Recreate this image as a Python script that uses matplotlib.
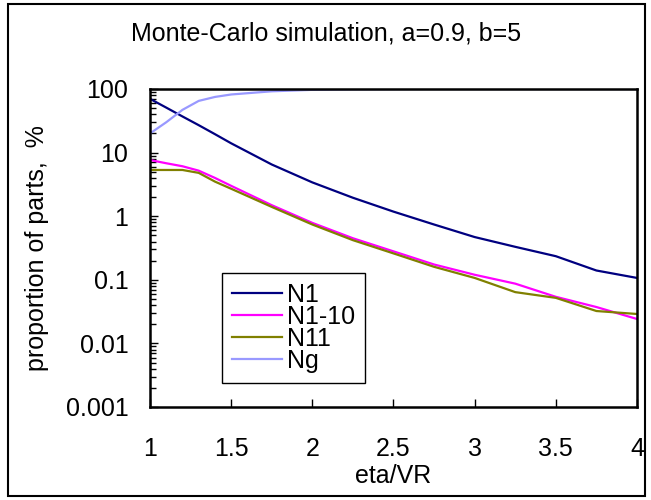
import matplotlib
matplotlib.use("Agg")
import matplotlib.pyplot as plt
from matplotlib.patches import Rectangle
from matplotlib.ticker import LogLocator, NullFormatter

plt.rcParams['font.family'] = ['Liberation Sans', 'DejaVu Sans']

eta = [1.0, 1.1, 1.2, 1.3, 1.4, 1.5, 1.75, 2.0, 2.25, 2.5, 2.75, 3.0, 3.25, 3.5, 3.75, 4.0]
n1 = [70, 51, 37, 27, 19.5, 14, 6.5, 3.4, 1.95, 1.18, 0.74, 0.47, 0.33, 0.235, 0.14, 0.107]
n1_10 = [7.65, 6.8, 6.1, 5.2, 4.0, 3.0, 1.49, 0.785, 0.45, 0.28, 0.174, 0.12, 0.087, 0.054, 0.0373, 0.0242]
n11 = [5.33, 5.33, 5.33, 4.8, 3.5, 2.7, 1.4, 0.74, 0.42, 0.26, 0.16, 0.107, 0.064, 0.052, 0.0323, 0.029]
ng = [20, 30, 47, 65, 75, 82, 92, 97, 99, 99.6, 100, 100, 100, 100, 100, 100]

labels = ["N1", "N1-10", "N11", "Ng"]
colors = ["#000080", "#FF00FF", "#808000", "#9999FF"]
series = [n1, n1_10, n11, ng]

title = "Monte-Carlo simulation, a=0.9, b=5"
xlabel = "eta/VR"
ylabel = "proportion of parts,  %"
xticks = [1, 1.5, 2, 2.5, 3, 3.5, 4]
xticklabels = ["1", "1.5", "2", "2.5", "3", "3.5", "4"]
yticks = [0.001, 0.01, 0.1, 1, 10, 100]
yticklabels = ["0.001", "0.01", "0.1", "1", "10", "100"]

FS = 18

fig = plt.figure(figsize=(6.51, 5.0), dpi=100)
ax = fig.add_axes([150/651, 1-407/500, (637-150)/651, (407-89)/500])

for vals, lab, col in zip(series, labels, colors):
    ax.plot(eta, vals, color=col, lw=1.6, label=lab)

ax.set_yscale('log')
ax.set_xlim(1, 4)
ax.set_ylim(0.001, 100)
ax.set_xticks(xticks)
ax.set_xticklabels(xticklabels)
ax.set_yticks(yticks)
ax.set_yticklabels(yticklabels)
ax.yaxis.set_minor_locator(LogLocator(base=10, subs=range(2, 10), numticks=20))
ax.yaxis.set_minor_formatter(NullFormatter())
ax.tick_params(axis='both', which='major', direction='in', length=6, width=1,
               labelsize=FS, colors='black')
ax.tick_params(axis='y', which='major', pad=15.5)
ax.tick_params(axis='x', which='major', pad=21.5)
ax.tick_params(axis='y', which='minor', direction='in', length=4, width=1)
for s in ax.spines.values():
    s.set_linewidth(1.8)
    s.set_color('black')

ax.set_xlabel(xlabel, fontsize=FS, va='center')
ax.xaxis.set_label_coords(0.5, (407-476)/318)
ax.set_ylabel(ylabel, fontsize=FS, va='center')
ax.yaxis.set_label_coords((37-150)/487, 0.5)

fig.text(326/651, 1 - 33/500, title, ha='center', va='center', fontsize=FS)

leg = ax.legend(loc='lower left', bbox_to_anchor=((222-150)/487, (407-383)/318),
                fontsize=FS, frameon=True, fancybox=False, framealpha=1,
                edgecolor='black', handlelength=2.0, labelspacing=-0.08,
                borderpad=0.4, handletextpad=0.2, borderaxespad=0)
leg.get_frame().set_linewidth(1.0)

fig.patches.append(Rectangle((8/651, 4/500), (645-8)/651, (496-4)/500,
                             transform=fig.transFigure, fill=False,
                             edgecolor='black', lw=1.5))

fig.savefig("out.png", dpi=100)
